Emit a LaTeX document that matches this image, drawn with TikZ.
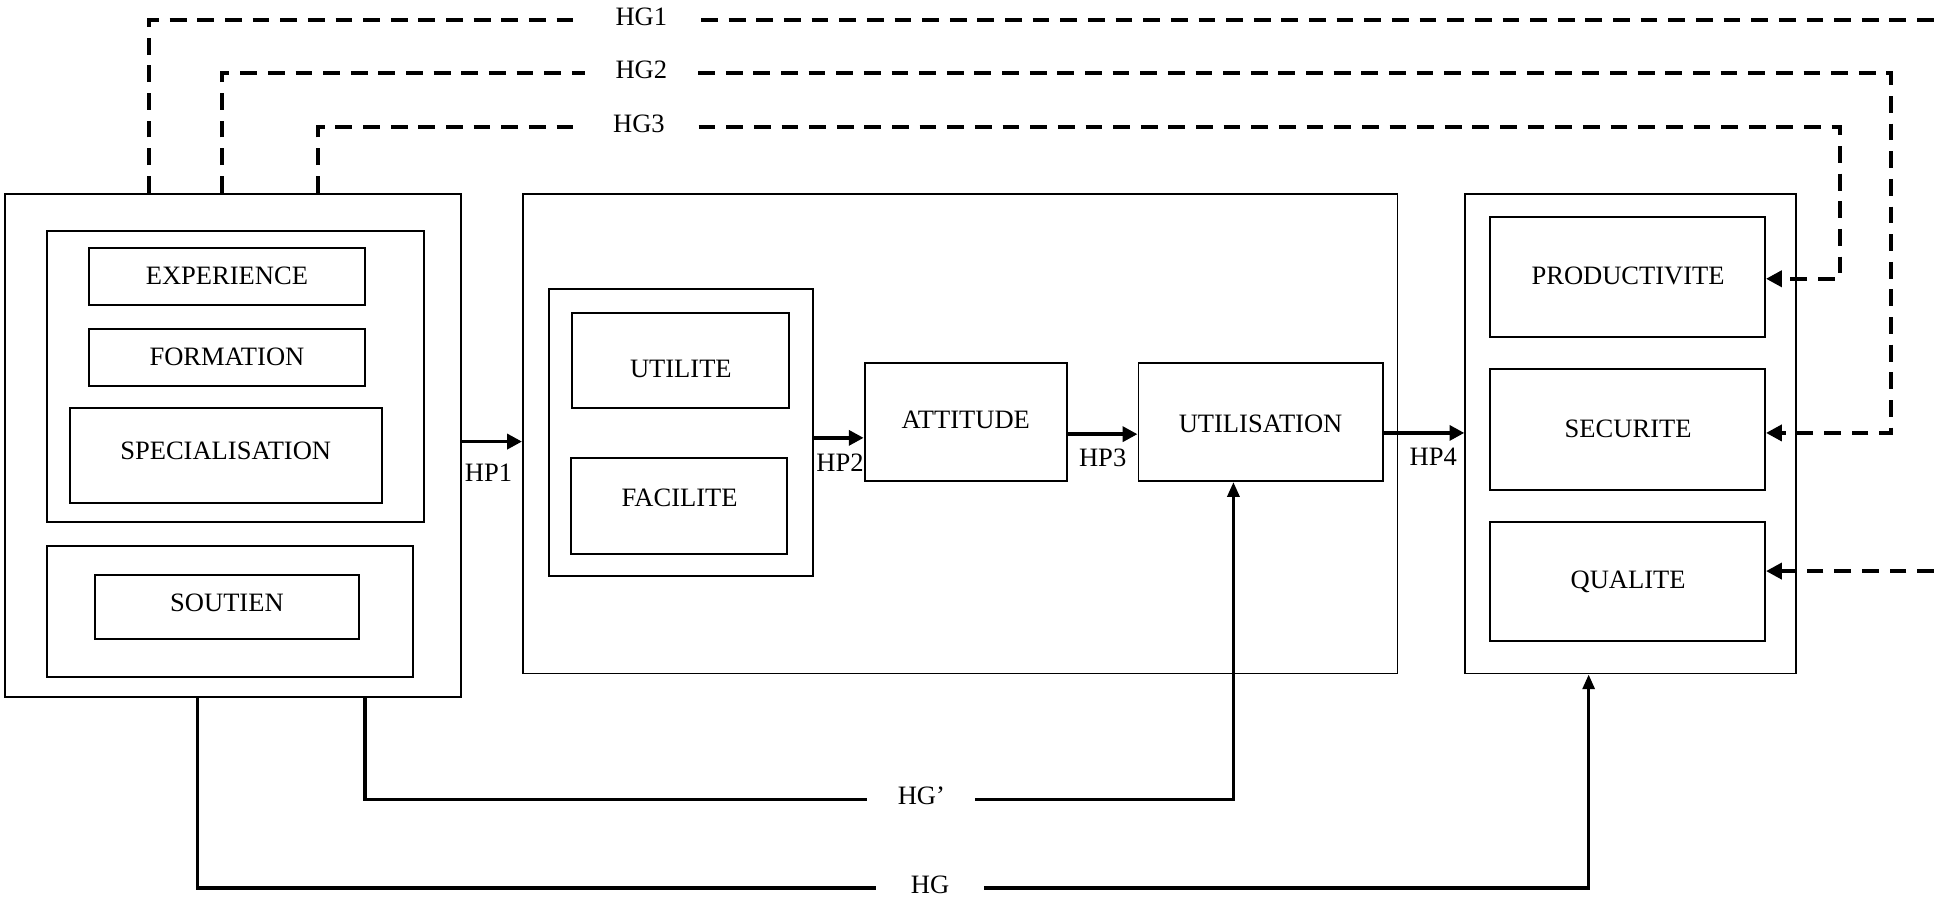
\documentclass[tikz,border=0pt]{standalone}
\usepackage{fontspec}
\setmainfont{Liberation Serif}
\usetikzlibrary{arrows.meta,fit}
\begin{document}
\begin{tikzpicture}[x=0.025cm,y=-0.025cm,
  bx/.style={draw,line width=1.1pt,inner sep=0pt},
  base/.style={inner sep=0pt,text height=0.66em,text depth=0pt,font=\fontsize{15.3}{18}\selectfont},
  txt/.style={base,yshift=-0.07cm},
  gap/.style={base,inner xsep=#1},
  hp/.style={line width=2.2pt,-{Triangle[length=0.3cm,width=0.3cm]}},
  hgl/.style={line width=2pt},
  hga/.style={hgl,-{Triangle[length=0.3cm,width=0.24cm]}},
  dl/.style={line width=2.4pt,dash pattern=on 0.34cm off 0.22cm},
  da/.style={dl,-{Triangle[length=0.32cm,width=0.32cm]}}]
\path[use as bounding box] (0,0) rectangle (1568,731);
% left block
\node[bx,fit={(4,157) (374,565)}] (L) {};
\node[bx,fit={(38,187) (344,423)}] (LG) {};
\node[bx,fit={(72,201) (296,247)}] (exp) {};
\node[txt] (texp) at (184,223) {EXPERIENCE};
\node[bx,fit={(72,267) (296,313)}] (for) {};
\node[txt] (tfor) at (184,289) {FORMATION};
\node[bx,fit={(57,331) (310,408)}] (spe) {};
\node[txt] (tspe) at (183,365) {SPECIALISATION};
\node[bx,fit={(38,443) (335,549)}] (SG) {};
\node[bx,fit={(77,466) (291,518)}] (sou) {};
\node[txt] (tsou) at (184,488) {SOUTIEN};
% middle block
\node[bx,fit={(424,157) (1133,546)}] (M) {};
\node[bx,fit={(445,234) (659,467)}] (G) {};
\node[bx,fit={(464,254) (640,331)}] (uti) {};
\node[txt] (tuti) at (552,299) {UTILITE};
\node[bx,fit={(463,371) (638,449)}] (fac) {};
\node[txt] (tfac) at (551,403) {FACILITE};
\node[bx,fit={(701,294) (865,390)}] (att) {};
\node[txt] (tatt) at (783,340) {ATTITUDE};
\node[bx,fit={(923,294) (1121,390)}] (usa) {};
\node[txt] (tusa) at (1022,343) {UTILISATION};
% right block
\node[bx,fit={(1188,157) (1456,546)}] (R) {};
\node[bx,fit={(1208,176) (1431,273)}] (pro) {};
\node[txt] (tpro) at (1320,223) {PRODUCTIVITE};
\node[bx,fit={(1208,299) (1431,397)}] (sec) {};
\node[txt] (tsec) at (1320,347) {SECURITE};
\node[bx,fit={(1208,423) (1431,520)}] (qua) {};
\node[txt] (tqua) at (1320,470) {QUALITE};
% HP arrows
\coordinate (y1) at (0,358);
\coordinate (y2) at (0,355);
\coordinate (y3) at (0,352);
\coordinate (y4) at (0,351);
\draw[hp] (L.east |- y1) -- (M.west |- y1);
\node[txt] (hp1) at (396,383) {HP1};
\draw[hp] (G.east |- y2) -- (att.west |- y2);
\node[txt] (hp2) at (681,375) {HP2};
\draw[hp] (att.east |- y3) -- (usa.west |- y3);
\node[txt] (hp3) at (894,371) {HP3};
\draw[hp] (usa.east |- y4) -- (R.west |- y4);
\node[txt] (hp4) at (1162,370) {HP4};
% HG' and HG
\node[gap=0.61cm] (hgp) at (747,648) {HG’};
\coordinate (c1) at (296,648);
\coordinate (c2) at (1000,648);
\draw[hgl] (L.south -| c1) -- (c1) -- (hgp.west);
\draw[hga] (hgp.east) -- (c2) -- (usa.south -| c2);
\node[gap=0.7cm] (hg) at (754,720) {HG};
\coordinate (c3) at (160,720);
\coordinate (c4) at (1288,720);
\draw[hgl] (L.south -| c3) -- (c3) -- (hg.west);
\draw[hga] (hg.east) -- (c4) -- (R.south -| c4);
% dashed HG1..HG3
\node[gap=0.68cm] (hg1) at (520,16) {HG1};
\coordinate (d1) at (121,16);
\coordinate (e1) at (1568,16);
\draw[dl] (L.north -| d1) -- (d1) -- (hg1.west);
\draw[dl] (hg1.east) -- (e1);
\node[gap=0.62cm] (hg2) at (520,59) {HG2};
\coordinate (d2) at (180,59);
\coordinate (f2) at (1533,59);
\coordinate (g2) at (1533,351);
\draw[dl] (L.north -| d2) -- (d2) -- (hg2.west);
\draw[da] (hg2.east) -- (f2) -- (g2) -- (sec.east |- g2);
\node[gap=0.68cm] (hg3) at (518,103) {HG3};
\coordinate (d3) at (258,103);
\coordinate (f3) at (1492,103);
\coordinate (g3) at (1492,226);
\draw[dl] (L.north -| d3) -- (d3) -- (hg3.west);
\draw[da] (hg3.east) -- (f3) -- (g3) -- (pro.east |- g3);
\coordinate (e4) at (1568,463);
\draw[da] (e4) -- (qua.east |- e4);
\end{tikzpicture}
\end{document}
